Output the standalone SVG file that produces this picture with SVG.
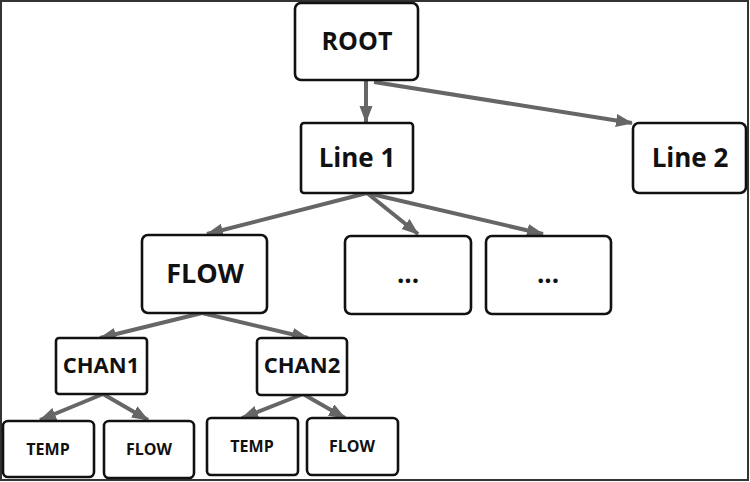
<svg xmlns="http://www.w3.org/2000/svg" width="750" height="482" viewBox="0 0 750 482">
<defs>
<style>
.box{fill:#fff;stroke:#111;stroke-width:2.6;stroke-linejoin:round}
.t{font-family:"Open Sans","Liberation Sans",sans-serif;font-weight:700;fill:#111;text-anchor:middle}
.edge{stroke:#666;stroke-width:4;fill:none;marker-end:url(#ah)}
</style>
<marker id="ah" markerUnits="userSpaceOnUse" markerWidth="18" markerHeight="14" refX="16" refY="6.5" orient="auto">
<path d="M0,0 L17,6.5 L0,13 z" fill="#666"/>
</marker>
</defs>
<rect x="0" y="0" width="750" height="482" fill="#fff"/>
<rect x="1" y="1" width="747" height="479" fill="none" stroke="#333" stroke-width="2"/>
<g id="connectors">
<line class="edge" x1="366" y1="80" x2="366" y2="122"/>
<line class="edge" x1="374" y1="82" x2="632" y2="123"/>
<line class="edge" x1="367" y1="193" x2="207" y2="234"/>
<line class="edge" x1="367" y1="193" x2="418" y2="234"/>
<line class="edge" x1="367" y1="193" x2="543" y2="234"/>
<line class="edge" x1="202" y1="313" x2="100" y2="338"/>
<line class="edge" x1="202" y1="313" x2="308" y2="338"/>
<line class="edge" x1="103" y1="394" x2="40" y2="420"/>
<line class="edge" x1="103" y1="394" x2="148" y2="420"/>
<line class="edge" x1="303" y1="394" x2="242" y2="418"/>
<line class="edge" x1="303" y1="394" x2="345" y2="418"/>
</g>
<g id="root"><rect class="box" x="295" y="3" width="123" height="77" rx="6"/><text class="t" x="357" y="50" font-size="25">ROOT</text></g>
<g id="line1"><rect class="box" x="301" y="123" width="112" height="70" rx="3"/><text class="t" x="357" y="167" font-size="26">Line 1</text></g>
<g id="line2"><rect class="box" x="633" y="123" width="113" height="70" rx="6"/><text class="t" x="690" y="167" font-size="26">Line 2</text></g>
<g id="flow"><rect class="box" x="142" y="235" width="125" height="78" rx="6"/><text class="t" x="205" y="283" font-size="27">FLOW</text></g>
<g id="dots1"><rect class="box" x="345" y="236" width="126" height="78" rx="6"/><text class="t" x="408" y="283" font-size="26">...</text></g>
<g id="dots2"><rect class="box" x="486" y="236" width="125" height="78" rx="6"/><text class="t" x="548" y="283" font-size="26">...</text></g>
<g id="chan1"><rect class="box" x="56" y="338" width="91" height="56" rx="3"/><text class="t" x="101" y="373" font-size="22">CHAN1</text></g>
<g id="chan2"><rect class="box" x="257" y="338" width="90" height="57" rx="4"/><text class="t" x="302" y="373" font-size="22">CHAN2</text></g>
<g id="temp1"><rect class="box" x="3" y="421" width="91" height="56" rx="5"/><text class="t" x="48" y="455" font-size="16">TEMP</text></g>
<g id="flow1"><rect class="box" x="104" y="421" width="90" height="57" rx="5"/><text class="t" x="149" y="455" font-size="16">FLOW</text></g>
<g id="temp2"><rect class="box" x="207" y="418" width="91" height="57" rx="4"/><text class="t" x="252" y="452" font-size="16">TEMP</text></g>
<g id="flow2"><rect class="box" x="307" y="418" width="91" height="57" rx="5"/><text class="t" x="352" y="452" font-size="16">FLOW</text></g>
</svg>
